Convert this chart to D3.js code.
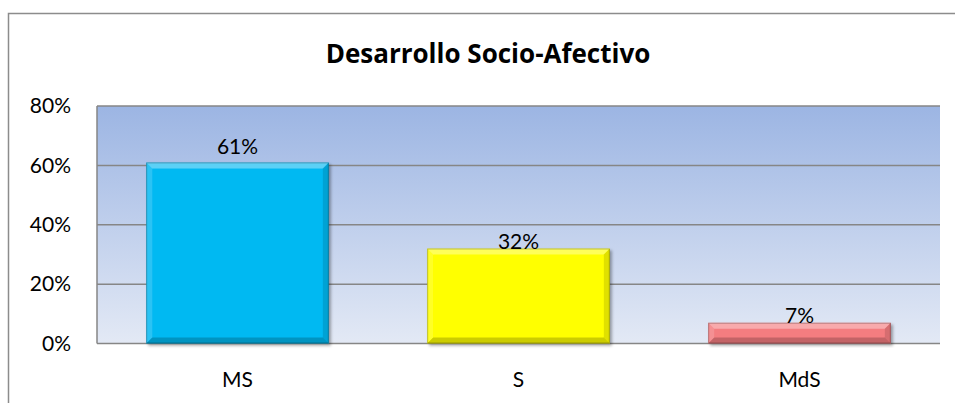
<!DOCTYPE html>
<html>
<head>
<meta charset="utf-8">
<script src="https://cdn.jsdelivr.net/npm/d3@7"></script>
<style>
  body { margin: 0; background: #fff; }
  text { font-family: Lato, "Open Sans", sans-serif; fill: #000; }
</style>
</head>
<body>
<svg id="chart"></svg>
<script>
// chart data
const categories = ['MS', 'S', 'MdS'];
const values = [0.61, 0.32, 0.07];
const yTicks = [0, 0.2, 0.4, 0.6, 0.8];
const barColors = ['#06b9f2', '#ffff00', '#f47d80'];
const title = 'Desarrollo Socio-Afectivo';

const width = 955;
const height = 403;
const margin = { top: 106, right: 15, bottom: 59.5, left: 97 };

const svg = d3.select('#chart')
    .attr('width', width)
    .attr('height', height);

const defs = svg.append('defs');

// plot background gradient
const bg = defs.append('linearGradient')
    .attr('id', 'bg').attr('x1', 0).attr('y1', 0).attr('x2', 0).attr('y2', 1);
bg.append('stop').attr('offset', '0%').attr('stop-color', '#9cb5e3');
bg.append('stop').attr('offset', '100%').attr('stop-color', '#e3e9f5');

// soft shadow under bars
const shadow = defs.append('filter').attr('id', 'shadow')
    .attr('x', '-10%').attr('y', '-10%').attr('width', '130%').attr('height', '130%');
shadow.append('feDropShadow')
    .attr('dx', 2).attr('dy', 2).attr('stdDeviation', 1.5)
    .attr('flood-color', '#000').attr('flood-opacity', 0.35);

// outer chart frame (cut by the window on the right and bottom)
svg.append('path')
    .attr('d', `M8.5,${height} V13.5 H${width}`)
    .attr('fill', 'none')
    .attr('stroke', '#8c8c8c')
    .attr('stroke-width', 1.5);

const plotW = width - margin.left - margin.right;
const plotH = height - margin.top - margin.bottom;

const x = d3.scaleBand()
    .domain(categories)
    .range([margin.left, margin.left + plotW])
    .paddingInner(0.35)
    .paddingOuter(0.175);

const y = d3.scaleLinear()
    .domain([0, 0.8])
    .range([margin.top + plotH, margin.top]);

// plot area
svg.append('rect')
    .attr('x', margin.left)
    .attr('y', margin.top)
    .attr('width', plotW)
    .attr('height', plotH)
    .attr('fill', 'url(#bg)');

// gridlines
svg.append('g')
    .selectAll('line')
    .data(yTicks)
    .enter().append('line')
    .attr('x1', margin.left)
    .attr('x2', margin.left + plotW)
    .attr('y1', d => y(d))
    .attr('y2', d => y(d))
    .attr('stroke', '#868686')
    .attr('stroke-width', 1.5);

// left axis line
svg.append('line')
    .attr('x1', margin.left).attr('x2', margin.left)
    .attr('y1', margin.top).attr('y2', y(0))
    .attr('stroke', '#868686')
    .attr('stroke-width', 1.5);

// y tick labels
svg.append('g')
    .selectAll('text')
    .data(yTicks)
    .enter().append('text')
    .attr('x', 71)
    .attr('y', d => y(d))
    .attr('dy', '0.35em')
    .attr('text-anchor', 'end')
    .style('font-size', '21px')
    .text(d3.format('.0%'));

// bars with a bevel look
const bev = 6;
const bar = svg.append('g')
    .selectAll('g')
    .data(categories)
    .enter().append('g')
    .attr('filter', 'url(#shadow)');

bar.append('rect')
    .attr('x', d => x(d))
    .attr('y', (d, i) => y(values[i]))
    .attr('width', x.bandwidth())
    .attr('height', (d, i) => y(0) - y(values[i]))
    .attr('fill', (d, i) => barColors[i]);

const bevelPath = (x0, y0, x1, y1, side) => {
    const b = Math.min(bev, (y1 - y0) / 2);
    if (side === 'top') return `M${x0},${y0} H${x1} L${x1 - b},${y0 + b} H${x0 + b} Z`;
    if (side === 'left') return `M${x0},${y0} L${x0 + b},${y0 + b} V${y1 - b} L${x0},${y1} Z`;
    if (side === 'right') return `M${x1},${y0} L${x1 - b},${y0 + b} V${y1 - b} L${x1},${y1} Z`;
    return `M${x0},${y1} H${x1} L${x1 - b},${y1 - b} H${x0 + b} Z`;
};
const sides = [
    { side: 'top', color: '#fff', op: 0.35 },
    { side: 'left', color: '#fff', op: 0.15 },
    { side: 'right', color: '#000', op: 0.12 },
    { side: 'bottom', color: '#000', op: 0.2 }
];
sides.forEach(s => {
    bar.append('path')
        .attr('d', (d, i) => bevelPath(x(d), y(values[i]), x(d) + x.bandwidth(), y(0), s.side))
        .attr('fill', s.color)
        .attr('fill-opacity', s.op);
});
bar.append('rect')
    .attr('x', d => x(d) + 0.5)
    .attr('y', (d, i) => y(values[i]) + 0.5)
    .attr('width', x.bandwidth() - 1)
    .attr('height', (d, i) => y(0) - y(values[i]) - 1)
    .attr('fill', 'none')
    .attr('stroke', '#000')
    .attr('stroke-opacity', 0.25);

// value labels (the smaller bars have their label sitting on the bar top)
svg.append('g')
    .selectAll('text')
    .data(categories)
    .enter().append('text')
    .attr('x', d => x(d) + x.bandwidth() / 2)
    .attr('y', (d, i) => y(values[i]) - (values[i] > 0.5 ? 8 : 0))
    .attr('text-anchor', 'middle')
    .style('font-size', '21px')
    .text((d, i) => d3.format('.0%')(values[i]));

// category labels
svg.append('g')
    .selectAll('text')
    .data(categories)
    .enter().append('text')
    .attr('x', d => x(d) + x.bandwidth() / 2)
    .attr('y', 387)
    .attr('text-anchor', 'middle')
    .style('font-size', '21px')
    .text(d => d);

// title
svg.append('text')
    .attr('x', 488)
    .attr('y', 63)
    .attr('text-anchor', 'middle')
    .style('font-family', '"Open Sans", sans-serif')
    .style('font-size', '26px')
    .style('font-weight', 'bold')
    .text(title);
</script>
</body>
</html>
